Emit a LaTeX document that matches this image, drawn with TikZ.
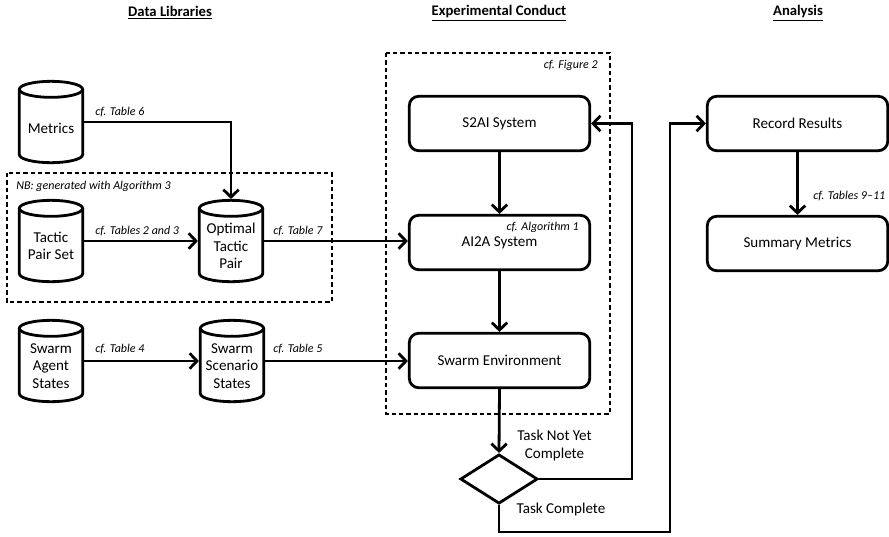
\documentclass[tikz,border=0pt]{standalone}
\usepackage{fontspec}
\setmainfont{Carlito}
\usetikzlibrary{arrows.meta,shapes.geometric,calc}
\begin{document}
\begin{tikzpicture}[x=0.75pt,y=0.75pt,
  every node/.style={inner sep=0pt},
  lw/.style={line width=2.1pt},
  arr/.style={lw, -{Straight Barb[length=5.5pt,width=11.5pt]}},
  sysbox/.style={draw, lw, rounded corners=7pt, minimum width=135.3pt, minimum height=40.8pt, font=\fontsize{11.3}{13}\selectfont, align=center},
  dbbox/.style={minimum width=47.5pt, minimum height=61pt, outer sep=1.05pt},
  dbtext/.style={font=\fontsize{11.3}{13}\selectfont, align=center},
  refl/.style={font=\fontsize{9}{11}\selectfont\itshape},
  title/.style={font=\fontsize{11}{13}\selectfont\bfseries},
  grp/.style={draw, line width=1.1pt, dash pattern=on 3.3pt off 2.2pt},
  dec/.style={draw, lw, diamond, minimum width=58pt, minimum height=37pt},
  lbl/.style={font=\fontsize{11.3}{13.5}\selectfont, align=center}
]
\useasboundingbox (0,0) rectangle (889,-536);

% titles
\node[title] (t1) at (170,-13) {\underline{Data Libraries}};
\node[title] (t2) at (499,-13) {\underline{Experimental Conduct}};
\node[title] (t3) at (798,-13) {\underline{Analysis}};

% dashed groups
\draw[grp] (7,-173) rectangle (332,-302);
\draw[grp] (386,-53) rectangle (610,-414);
\node[refl, anchor=west] (nb) at (16,-186) {NB: generated with Algorithm 3};
\node[refl, anchor=east] (cfig) at (598,-65) {cf. Figure 2};

% cylinders
\node[dbbox] (met) at (51,-122) {};
\node[dbbox] (tps) at (51,-241) {};
\node[dbbox] (otp) at (231,-241) {};
\node[dbbox] (sas) at (51,-361) {};
\node[dbbox] (sss) at (232,-361) {};
\foreach \n in {met,tps,otp,sas,sss}{
  \draw[lw] ($(\n.north west)+(1.05pt,-7.05pt)$) -- ($(\n.south west)+(1.05pt,7.05pt)$)
    arc[start angle=180,end angle=360,x radius=23.75pt,y radius=6pt]
    -- ($(\n.north east)+(-1.05pt,-7.05pt)$);
  \draw[lw] ($(\n.north)+(0,-7.05pt)$) ellipse[x radius=23.75pt,y radius=6pt];
}
\node[dbtext] (metT) at (51,-128) {Metrics};
\node[dbtext] (tpsT) at (51,-246) {Tactic\\Pair Set};
\node[dbtext] (otpT) at (231,-246) {Optimal\\Tactic\\Pair};
\node[dbtext] (sasT) at (51,-366) {Swarm\\Agent\\States};
\node[dbtext] (sssT) at (232,-366) {Swarm\\Scenario\\States};

% system boxes
\node[sysbox] (s2ai) at (499.5,-123.5) {S2AI System};
\node[sysbox] (ai2a) at (499.5,-242.5) {AI2A System};
\node[refl, anchor=east] (calg) at (579,-227) {cf. Algorithm 1};
\node[sysbox] (env) at (499.5,-360.5) {Swarm Environment};
\node[dec] (dia) at (499,-479) {};

\node[sysbox] (rec) at (797.5,-123.5) {Record Results};
\node[sysbox] (sum) at (797.5,-243.5) {Summary Metrics};

% connectors
\draw[arr] (met.east) -| (otp.north);
\node[refl, anchor=west] (l6) at (95,-112) {cf. Table 6};
\draw[arr] (tps.east) -- (otp.west);
\node[refl, anchor=west] (l23) at (95,-231) {cf. Tables 2 and 3};
\draw[arr] (otp.east) -- (ai2a.west |- otp.east);
\node[refl, anchor=west] (l7) at (273,-231) {cf. Table 7};
\draw[arr] (sas.east) -- (sss.west);
\node[refl, anchor=west] (l4) at (95,-349) {cf. Table 4};
\draw[arr] (sss.east) -- (env.west |- sss.east);
\node[refl, anchor=west] (l5) at (273,-349) {cf. Table 5};

\draw[arr] (s2ai.south) -- (ai2a.north);
\draw[arr] (ai2a.south) -- (env.north);
\draw[arr] (env.south) -- (dia.north);

\coordinate (loopA) at (632,-300);
\draw[arr] (dia.east) -| (loopA) |- (s2ai.east);
\node[lbl] (tny) at (554.5,-445) {Task Not Yet\\Complete};

\coordinate (loopB) at (670,-532);
\draw[arr] (dia.south) |- (loopB) |- (rec.west);
\node[lbl] (tc) at (561,-509) {Task Complete};

\draw[arr] (rec.south) -- (sum.north);
\node[refl, anchor=west] (l911) at (813,-196) {cf. Tables 9--11};
\end{tikzpicture}
\end{document}
